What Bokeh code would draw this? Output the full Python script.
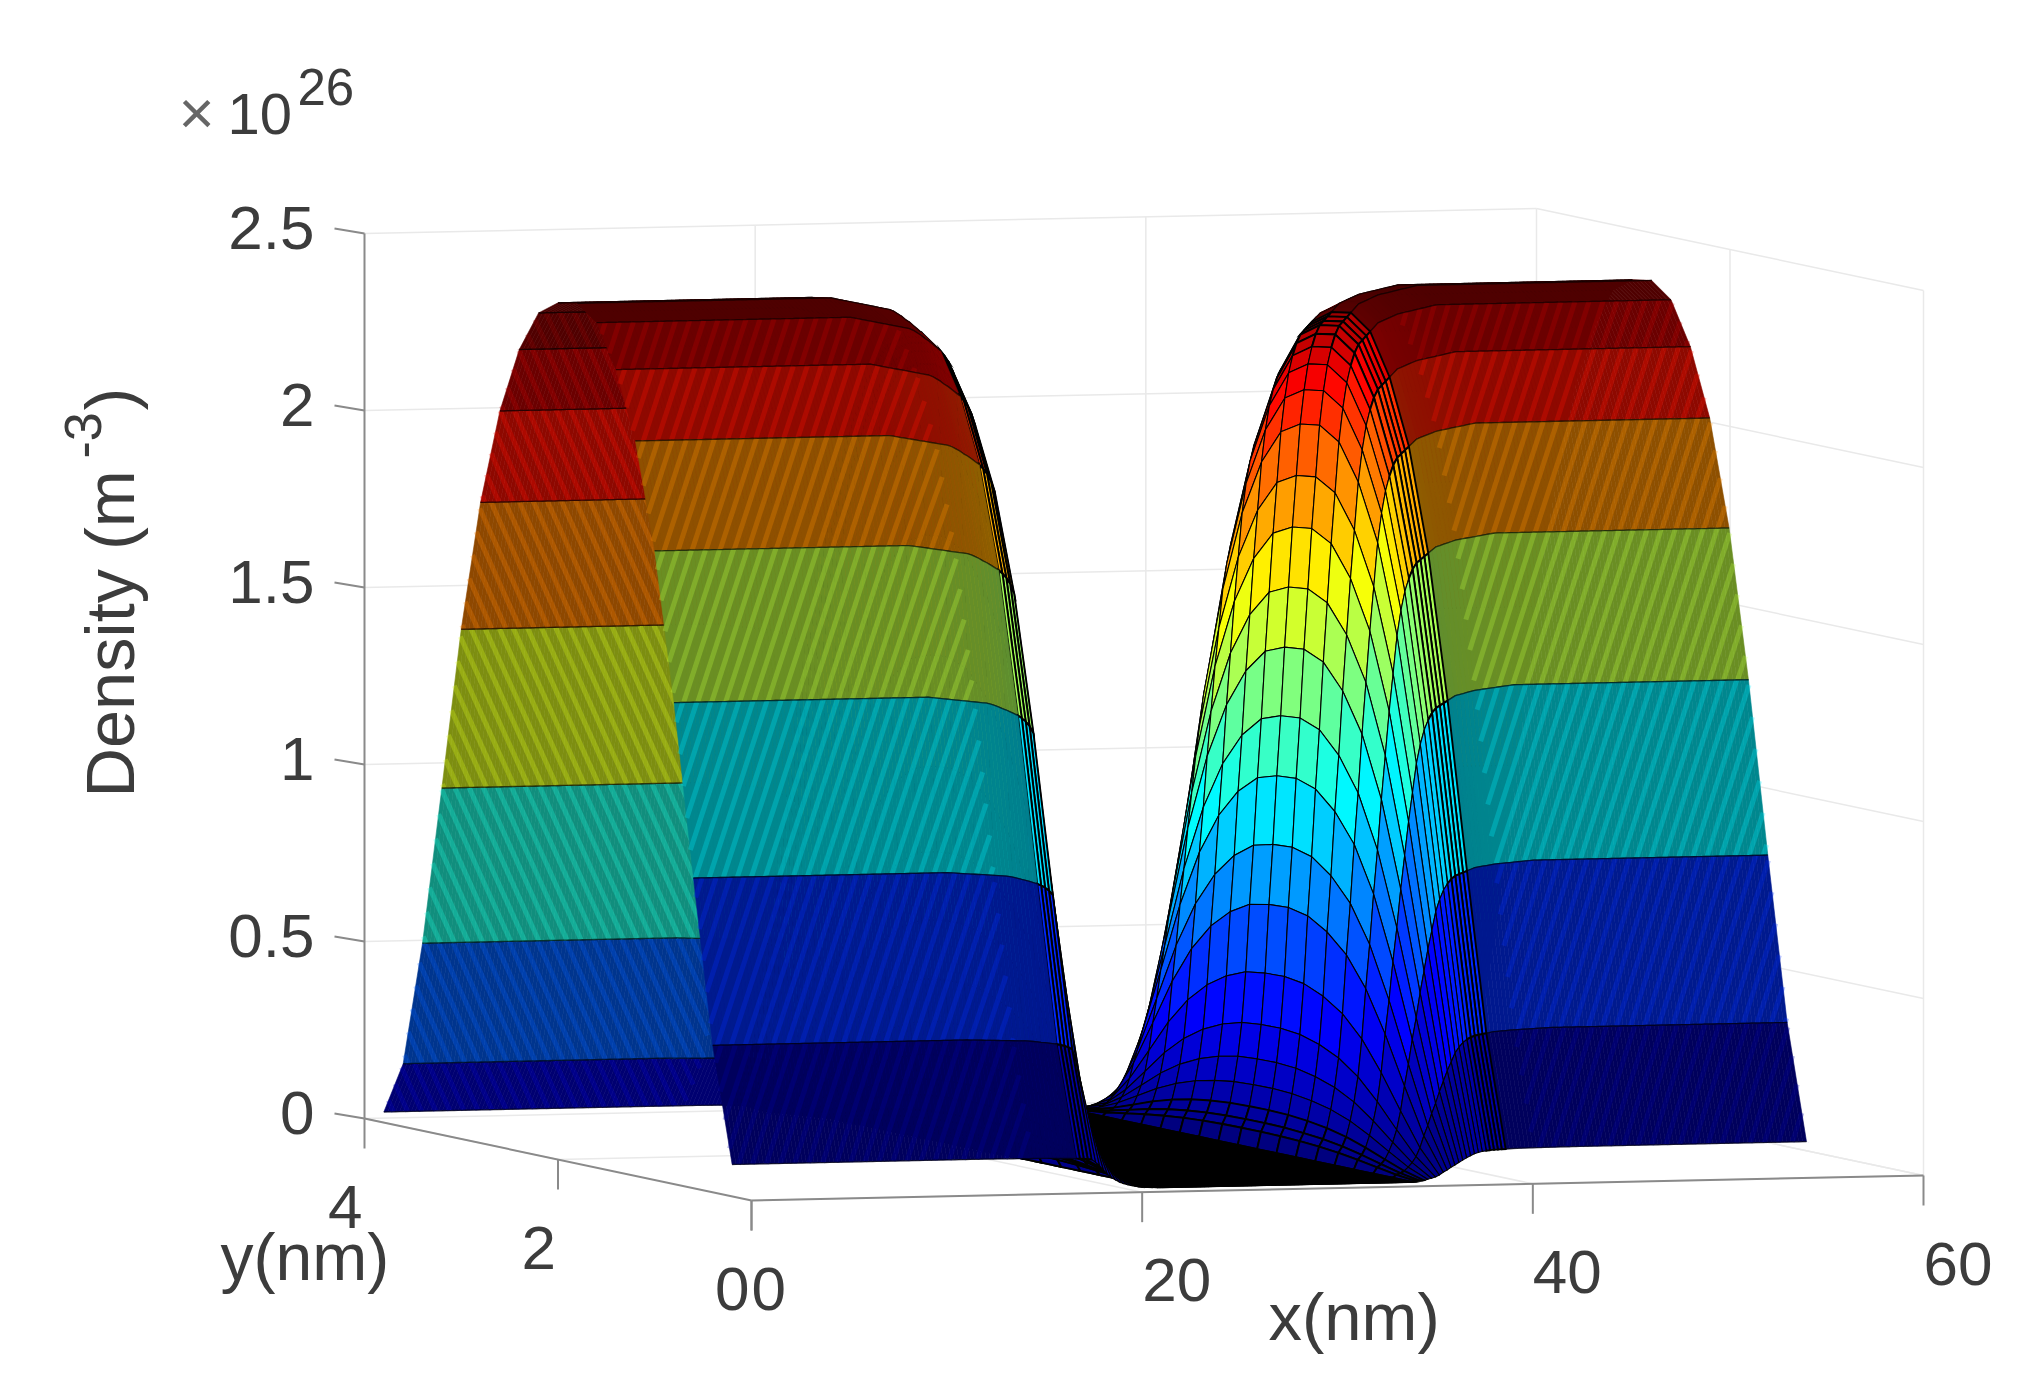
from bokeh.plotting import figure
from bokeh.embed import file_html
from bokeh.resources import INLINE
from bokeh.core.properties import value
import numpy as np

# ---- data -----------------------------------------------------------------
X_TICKS = [0, 20, 40, 60]
Y_TICKS = [0, 2, 4]
Z_TICKS = [0, 0.5, 1, 1.5, 2, 2.5]
Z_LABELS = ["0", "0.5", "1", "1.5", "2", "2.5"]

Y_ROWS = [0.2, 0.4, 0.6, 0.8, 1.0, 1.2, 1.4, 1.6, 1.8, 2.0, 2.2, 2.4, 2.6, 2.8, 3.0, 3.2, 3.4, 3.6, 3.8]
# density (1e26 m^-3) across y on the contact plateau
Y_PROFILE = [0.09, 0.415, 0.876, 1.36, 1.777, 2.076, 2.266, 2.387, 2.43, 2.42,
             2.38, 2.265, 2.08, 1.81, 1.44, 0.98, 0.53, 0.178, 0.03]
# relative density along x, 0.2 nm mesh from 0 to 55 nm
X_PROFILE = ([1.0] * 66
             + [.999, .998, .997, .996, .995, .994, .993, .992, .991, .99, .989, .988, .987, .986, .985]
             + [.983, .98, .977, .973, .97, .966, .962, .958, .952, .945, .935, .92, .83, .72,
                .58, .45, .35, .27, .2, .15, .11, .08, .06, .04, .03, .02, .015, .01]
             + [0.0] * 66
             + [.02, .03, .045, .07, .10, .14, .2, .28, .35, .43, .5, .58, .65, .72, .78, .84,
                .88, .91, .93, .945, .955, .96, .965, .97, .975, .98,
                .982, .984, .986, .988, .99, .991, .992, .993, .994, .995, .996, .997, .998, .999, 1.0]
             + [1.0] * 60)
X_STEP = 0.2
C_MAX = 2.42
# where the dense x mesh merges into a dim tone on the slopes (nm along x)
DIM_SPANS = [(0.0, 17.6), (39.6, 55.0)]
# where it also reads as a moire
STRIPE_SPANS = [(0.0, 15.4), (41.0, 55.0)]
STRIPE_PITCH = 0.72
STRIPE_LEAN = 0.33
MESH_DIM = 0.56

# ---- view of the MATLAB axes (orthographic) ---------------------------------
def proj(x, y, z):
    x, y, z = np.asarray(x, float), np.asarray(y, float), np.asarray(z, float)
    return (751 + x * 1172 / 60 - y * 387 / 4,
            1200 - x * 25 / 60 - y * 82 / 4 - z * 885 / 2.5)

def jet_rgb(t):
    t = min(max(t, 0.0), 1.0)
    r = np.clip(min(4 * t - 1.5, -4 * t + 4.5), 0, 1)
    g = np.clip(min(4 * t - 0.5, -4 * t + 3.5), 0, 1)
    b = np.clip(min(4 * t + 0.5, -4 * t + 2.5), 0, 1)
    return r, g, b

def jet(t, k=1.0):
    r, g, b = jet_rgb(t)
    return "#%02x%02x%02x" % (int(r * 255 * k), int(g * 255 * k), int(b * 255 * k))

def in_span(x0, x1):
    return any(a <= x0 and x1 <= b for a, b in DIM_SPANS)

p = figure(width=2040, height=1400, x_range=(0, 2040), y_range=(1400, 0),
           output_backend="svg", toolbar_location=None, min_border=0,
           background_fill_color="white", outline_line_color=None)
p.axis.visible = False
p.grid.visible = False

# ---- grid on the walls ------------------------------------------------------
GRID = "#e9e9e9"
def seg(a, b, color=GRID, w=1.5):
    xa, ya = proj(*a)
    xb, yb = proj(*b)
    p.line([float(xa), float(xb)], [float(ya), float(yb)], line_color=color, line_width=w)

for z in Z_TICKS:
    seg((0, 4, z), (60, 4, z))
    seg((60, 4, z), (60, 0, z))
for x in X_TICKS[1:]:
    seg((x, 4, 0), (x, 4, 2.5))
    seg((x, 4, 0), (x, 0, 0))
for y in Y_TICKS[:2]:
    seg((60, y, 0), (60, y, 2.5))
    seg((0, y, 0), (60, y, 0))
seg((0, 2, 0), (0, 4, 0))

# ---- axis lines and ticks ---------------------------------------------------
AXIS = "#8a8a8a"
seg((0, 4, 0), (0, 4, 2.5), AXIS, 2)
seg((0, 4, 0), (0, 0, 0), AXIS, 2)
seg((0, 0, 0), (60, 0, 0), AXIS, 2)

tx0, ty0, tx1, ty1 = [], [], [], []
for x in X_TICKS:
    a, b = proj(x, 0, 0)
    tx0.append(float(a)); ty0.append(float(b)); tx1.append(float(a)); ty1.append(float(b) + 30)
for y in Y_TICKS:
    a, b = proj(0, y, 0)
    tx0.append(float(a)); ty0.append(float(b)); tx1.append(float(a)); ty1.append(float(b) + 30)
for z in Z_TICKS:
    a, b = proj(0, 4, z)
    tx0.append(float(a)); ty0.append(float(b)); tx1.append(float(a) - 30); ty1.append(float(b) - 5)
p.segment(tx0, ty0, tx1, ty1, line_color=AXIS, line_width=2)

# ---- the surface: far rows first, far columns first ---------------------------
xs_nm = np.array([i * X_STEP for i in range(len(X_PROFILE))])
zz = np.outer(Y_PROFILE, X_PROFILE)
px, py = proj(xs_nm[None, :], np.array(Y_ROWS)[:, None], zz)
zx = np.array(X_PROFILE)

for j in range(len(Y_ROWS) - 2, -1, -1):
    pxs, pys, cols, edges, wid = [], [], [], [], []
    row_lines_x, row_lines_y = [], []
    for i in range(len(xs_nm) - 2, -1, -1):
        pxs.append([float(px[j, i]), float(px[j, i + 1]), float(px[j + 1, i + 1]), float(px[j + 1, i])])
        pys.append([float(py[j, i]), float(py[j, i + 1]), float(py[j + 1, i + 1]), float(py[j + 1, i])])
        t = zz[j, i] / C_MAX
        if in_span(xs_nm[i], xs_nm[i + 1]):
            c = jet(t, MESH_DIM)
            cols.append(c); edges.append(c); wid.append(0.6)
        else:
            cols.append(jet(t)); edges.append("black")
            wid.append(1.1 if abs(zx[i + 1] - zx[i]) > 0.02 else 1.9)
    p.patches(xs=pxs, ys=pys, fill_color=cols, line_color=edges, line_width=wid, line_join="miter")

    # moire stripes of the dense x mesh on the plateaus of this row
    front = Y_PROFILE[j + 1] >= Y_PROFILE[j]
    lo, hi = (j, j + 1) if front else (j + 1, j)       # lo = lower on screen
    x_lo = 751 - Y_ROWS[lo] * 387 / 4
    x_hi = 751 - Y_ROWS[hi] * 387 / 4
    height = (1200 - Y_ROWS[lo] * 82 / 4 - Y_PROFILE[lo] * 885 / 2.5) - (1200 - Y_ROWS[hi] * 82 / 4 - Y_PROFILE[hi] * 885 / 2.5)
    lean = STRIPE_LEAN if front else -0.45
    shift = (lean * height - (x_hi - x_lo)) * 60 / 1172      # nm along x between the row lines
    sx0, sy0, sx1, sy1 = [], [], [], []
    if height > 25:
        for a, b in STRIPE_SPANS:
            for x1 in np.arange(a - abs(shift) - 1, b + abs(shift) + 1, STRIPE_PITCH):
                ta = (a - x1) / shift
                tb = (b - x1) / shift
                t0 = max(0.0, min(ta, tb))
                t1 = min(1.0, max(ta, tb))
                if t1 <= t0:
                    continue
                xa_nm = x1 + t0 * shift
                xb_nm = x1 + t1 * shift
                za = (Y_PROFILE[lo] + t0 * (Y_PROFILE[hi] - Y_PROFILE[lo])) * np.interp(xa_nm, xs_nm, zx)
                zb = (Y_PROFILE[lo] + t1 * (Y_PROFILE[hi] - Y_PROFILE[lo])) * np.interp(xb_nm, xs_nm, zx)
                ya = Y_ROWS[lo] + t0 * (Y_ROWS[hi] - Y_ROWS[lo])
                yb = Y_ROWS[lo] + t1 * (Y_ROWS[hi] - Y_ROWS[lo])
                A = proj(xa_nm, ya, za)
                B = proj(xb_nm, yb, zb)
                sx0.append(float(A[0])); sy0.append(float(A[1]))
                sx1.append(float(B[0])); sy1.append(float(B[1]))
    if sx0:
        p.segment(sx0, sy0, sx1, sy1, line_color=jet(Y_PROFILE[j] / C_MAX), line_alpha=0.28,
                  line_width=5, line_cap="butt")

    # the row lines of the mesh stay visible across the plateaus
    for a, b in DIM_SPANS:
        mask = (xs_nm >= a) & (xs_nm <= b)
        for k in (j, j + 1):
            row_lines_x.append([float(v) for v in px[k][mask]])
            row_lines_y.append([float(v) for v in py[k][mask]])
    p.multi_line(row_lines_x, row_lines_y, line_color="black", line_alpha=0.6, line_width=1.3)

# ---- texts ------------------------------------------------------------------
FONT = value("Liberation Sans")
INK = "#3c3c3c"
def label(x, y, s, size=62, align="center", angle=0.0, color=INK):
    # (x, y) is the wanted baseline position; the svg text sits 0.4 em lower than asked
    if angle == 0:
        y = y - 0.4 * size
    else:
        x = x - 0.4 * size
    p.text([x], [y], text=[s], text_font=FONT, text_font_size=value(f"{size}px"), text_color=color,
           text_align=align, text_baseline="alphabetic", angle=angle)

for z, s in zip(Z_TICKS, Z_LABELS):
    a, b = proj(0, 4, z)
    label(float(a) - 50, float(b) + 19, s, align="right")
for x in X_TICKS:
    a, b = proj(x, 0, 0)
    label(float(a), float(b) + 113, str(x), align="left")
for y in Y_TICKS:
    a, b = proj(0, y, 0)
    label(float(a) - 2, float(b) + 113, str(y), align="right")

label(1268, 1343, "x(nm)", 67, "left")
label(220, 1283, "y(nm)", 66, "left")
label(137, 797, "Density (m", 68.5, "left", np.pi / 2)
label(103, 458, "-3", 52, "left", np.pi / 2)
label(137, 410, ")", 68.5, "left", np.pi / 2)
label(178, 137, "\u00d7", 62, "left", color="#666666")
label(227, 137, "10", 58, "left")
label(297, 107, "26", 51, "left")

open("out.html", "w").write(file_html(p, INLINE))
